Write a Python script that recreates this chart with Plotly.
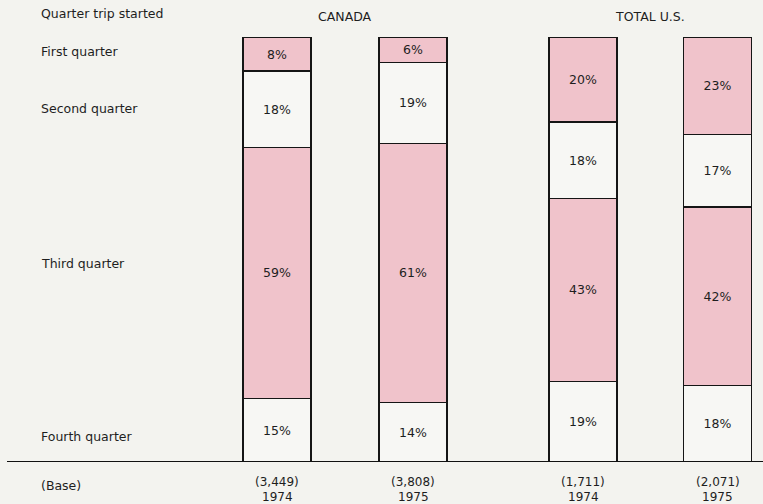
import plotly.graph_objects as go

# --- data -------------------------------------------------------------
groups = ["CANADA", "CANADA", "TOTAL U.S.", "TOTAL U.S."]
years = ["1974", "1975", "1974", "1975"]
bases = ["(3,449)", "(3,808)", "(1,711)", "(2,071)"]

quarters = ["First quarter", "Second quarter", "Third quarter", "Fourth quarter"]
first_q = [8, 6, 20, 23]
second_q = [18, 19, 18, 17]
third_q = [59, 61, 43, 42]
fourth_q = [15, 14, 19, 18]

# --- layout constants (pixels) ----------------------------------------
W, H = 763, 504
PLOT_TOP, PLOT_BOTTOM = 37, 462
BAR_X = [277, 413, 583, 717.5]
BAR_W = 68
PINK = "#f0c3cb"
PALE = "#f7f7f4"
BG = "#f3f3ef"
FONT = "DejaVu Sans, Verdana, sans-serif"
FS = 12.5
INK = "#1e1e1e"


def py(p):
    """pixel row -> paper y"""
    return (PLOT_BOTTOM - p) / (PLOT_BOTTOM - PLOT_TOP)


def px(p):
    return p / W


fig = go.Figure()

# stacked from the bottom: fourth quarter first, first quarter on top
series = [
    (fourth_q, PALE),
    (third_q, PINK),
    (second_q, PALE),
    (first_q, PINK),
]
for vals, col in series:
    fig.add_trace(go.Bar(
        x=BAR_X,
        y=vals,
        width=BAR_W,
        marker=dict(color=col, line=dict(color="#151515", width=1.4)),
        text=[f"{v}%" for v in vals],
        textposition="inside",
        insidetextanchor="middle",
        constraintext="none",
        textangle=0,
        textfont=dict(family=FONT, size=FS, color=INK),
        hoverinfo="skip",
        showlegend=False,
    ))

annotations = []


def label(text, x, y, xref="paper", xanchor="left", size=FS):
    annotations.append(dict(
        text=text, x=x, xref=xref, y=py(y), yref="paper",
        xanchor=xanchor, yanchor="middle", showarrow=False,
        font=dict(family=FONT, size=size, color=INK)))


# header and row labels on the left
row_y = [51, 108, 263, 436]
label("Quarter trip started", px(39), 14)
for name, yy in zip(quarters, row_y):
    label(name, px(39), yy)
label("(Base)", px(39), 485)

# group headers
group_centers = {}
for g, xb in zip(groups, BAR_X):
    group_centers.setdefault(g, []).append(xb)
for g, xs in group_centers.items():
    label(g, sum(xs) / len(xs), 16, xref="x", xanchor="center")

# bases and years under the bars
for xb, b, yr in zip(BAR_X, bases, years):
    label(b, xb, 482, xref="x", xanchor="center", size=12)
    label(yr, xb, 497, xref="x", xanchor="center", size=12)

fig.update_layout(
    width=W, height=H,
    margin=dict(l=0, r=0, t=PLOT_TOP, b=H - PLOT_BOTTOM, pad=0),
    paper_bgcolor=BG, plot_bgcolor=BG,
    barmode="stack",
    xaxis=dict(range=[0, W], visible=False, fixedrange=True),
    yaxis=dict(range=[0, 100], visible=False, fixedrange=True),
    annotations=annotations,
    shapes=[dict(type="line", xref="paper", yref="y", x0=px(7), x1=1,
                 y0=0, y1=0, line=dict(color="#111111", width=2))],
)

fig.write_html("out.html")
